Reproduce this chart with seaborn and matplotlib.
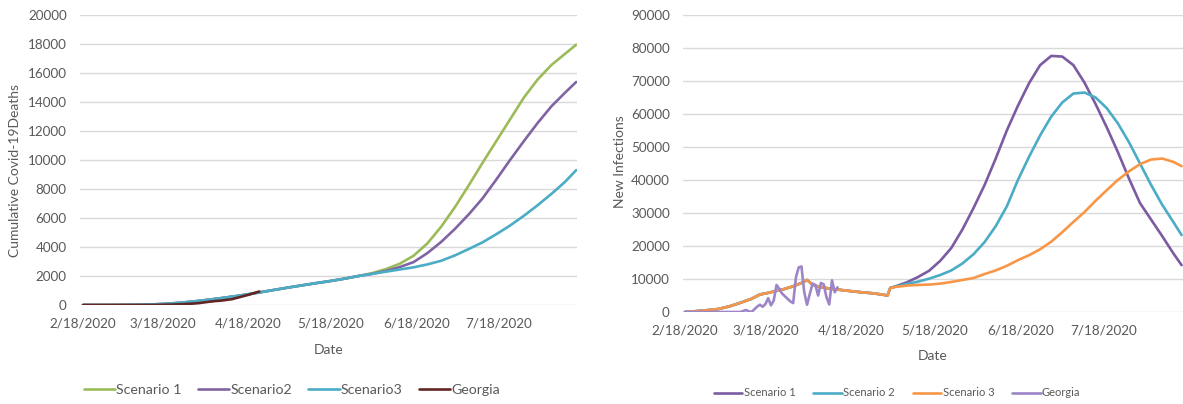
import numpy as np
import pandas as pd
import matplotlib
matplotlib.use("Agg")
import matplotlib.pyplot as plt
import seaborn as sns

# ---------------- data ----------------
start_date = "2020-02-18"
tick_dates = ["2020-02-18", "2020-03-18", "2020-04-18", "2020-05-18", "2020-06-18", "2020-07-18"]
tick_labels = ["2/18/2020", "3/18/2020", "4/18/2020", "5/18/2020", "6/18/2020", "7/18/2020"]

# Left chart: cumulative deaths (day offsets from 2/18/2020)
death_days = [0, 5, 10, 15, 20, 25, 30, 35, 40, 45, 50, 55, 60, 65, 70, 75, 80, 85, 90, 95, 100,
              105, 110, 115, 120, 125, 130, 135, 140, 145, 150, 155, 160, 165, 170, 175, 179]
shared_early_deaths = [0, 0, 0, 5, 15, 40, 80, 150, 240, 350, 470, 600, 740, 900, 1060, 1220,
                       1370, 1520, 1660, 1820, 2000]
scenario1_late_deaths = [2200, 2480, 2850, 3400, 4250, 5400, 6750, 8250, 9800, 11300, 12800,
                         14300, 15550, 16550, 17330, 17950]
scenario2_late_deaths = [2150, 2350, 2620, 2960, 3580, 4350, 5250, 6250, 7350, 8650, 10000,
                         11300, 12550, 13700, 14650, 15380]
scenario3_late_deaths = [2150, 2300, 2450, 2600, 2800, 3050, 3420, 3860, 4320, 4880, 5480,
                         6150, 6880, 7660, 8500, 9300]
georgia_death_days = [0, 22, 24, 26, 28, 30, 32, 34, 36, 38, 40, 42, 44, 46, 48, 50, 52, 54,
                      56, 58, 60, 62, 64]
georgia_deaths = [0, 0, 1, 5, 10, 20, 26, 40, 50, 80, 100, 130, 180, 230, 270, 300, 350, 400,
                  500, 600, 700, 820, 930]

# Right chart: new infections
infection_days_early = [0, 4, 8, 12, 16, 20, 24, 27, 30, 33, 36, 39, 42, 44, 46, 48, 52, 56,
                        60, 64, 68, 72, 73, 74]
shared_early_infections = [0, 250, 550, 900, 1700, 2800, 4000, 5300, 5800, 6400, 7000, 7800,
                           8800, 9700, 8300, 7700, 7100, 6700, 6300, 5950, 5650, 5150, 5000, 7300]
infection_days_late = [76, 80, 84, 88, 92, 96, 100, 104, 108, 112, 116, 120, 124, 128, 132,
                       136, 140, 144, 148, 152, 156, 160, 164, 168, 172, 176, 179]
scenario1_late_infections = [7800, 9000, 10600, 12500, 15500, 19400, 25000, 31500, 38500, 46500,
                             55000, 62500, 69300, 74800, 77600, 77400, 74800, 69500, 63000,
                             56000, 48500, 40500, 33000, 28000, 23000, 17800, 14200]
scenario2_late_infections = [7700, 8500, 9200, 10100, 11200, 12600, 14700, 17500, 21200, 26000,
                             32000, 40000, 47000, 53500, 59200, 63500, 66200, 66500, 65000,
                             61800, 57200, 51500, 45000, 38500, 32500, 27300, 23300]
scenario3_late_infections = [7600, 8000, 8200, 8300, 8600, 9100, 9700, 10300, 11500, 12600,
                             14000, 15700, 17200, 19000, 21300, 24200, 27300, 30300, 33700,
                             36900, 40000, 42600, 44800, 46200, 46500, 45500, 44200]
georgia_infection_days = list(range(0, 56))
georgia_infections = [0] * 20 + [0, 300, 600, 200, 0, 800, 1600, 2200, 1600, 2400, 4200, 2000,
                                 3500, 8200, 7000, 5600, 4800, 4000, 3200, 2700, 10500, 13500,
                                 13800, 6000, 2200, 5500, 8600, 8200, 5000, 8800, 8400, 4500,
                                 2300, 9600, 6000, 7500]

left_labels = ["Scenario 1", "Scenario2", "Scenario3", "Georgia"]
right_labels = ["Scenario 1", "Scenario 2", "Scenario 3", "Georgia"]
left_colors = ["#9bbb59", "#8064a2", "#4bacc6", "#632523"]
right_colors = ["#7b5ba1", "#4bacc6", "#f79646", "#9d86c7"]

# ---------------- build ----------------
base = pd.Timestamp(start_date)


def to_dates(days):
    return base + pd.to_timedelta(np.asarray(days, dtype=float), unit="D")


left_series = [
    (death_days, shared_early_deaths + scenario1_late_deaths),
    (death_days, shared_early_deaths + scenario2_late_deaths),
    (death_days, shared_early_deaths + scenario3_late_deaths),
    (georgia_death_days, georgia_deaths),
]
inf_days = infection_days_early + infection_days_late
right_series = [
    (inf_days, shared_early_infections + scenario1_late_infections),
    (inf_days, shared_early_infections + scenario2_late_infections),
    (inf_days, shared_early_infections + scenario3_late_infections),
    (georgia_infection_days, georgia_infections),
]

sns.set_style("white")
plt.rcParams["font.family"] = ["Lato", "DejaVu Sans"]
TXT = "#595959"

W, H = 1183, 404
fig = plt.figure(figsize=(W / 100, H / 100), dpi=100)


def px_axes(x0, x1, ytop, ybot):
    return fig.add_axes([x0 / W, 1 - ybot / H, (x1 - x0) / W, (ybot - ytop) / H])


ax1 = px_axes(80, 577, 15, 305)
ax2 = px_axes(683, 1183, 15, 312)

for ax, series, colors in [(ax1, left_series, left_colors), (ax2, right_series, right_colors)]:
    for (d, v), c in zip(series, colors):
        sns.lineplot(x=to_dates(d), y=v, ax=ax, color=c, linewidth=1.9, legend=False)

ax1.set_xlim(base - pd.Timedelta(days=1.1), base + pd.Timedelta(days=179.3))
ax2.set_xlim(base - pd.Timedelta(days=0.7), base + pd.Timedelta(days=179.5))
ax1.set_ylim(0, 20000)
ax2.set_ylim(0, 90000)
ax1.set_yticks(list(range(0, 20001, 2000)))
ax2.set_yticks(list(range(0, 90001, 10000)))
ax1.set_yticklabels([str(t) for t in range(0, 20001, 2000)])
ax2.set_yticklabels([str(t) for t in range(0, 90001, 10000)])

for ax in (ax1, ax2):
    ax.set_xticks(pd.to_datetime(tick_dates))
    ax.set_xticklabels(tick_labels)
    ax.tick_params(axis="both", length=0, labelsize=9.7, labelcolor=TXT)
    ax.tick_params(axis="x", pad=9)
    ax.tick_params(axis="y", pad=9.5)
    ax.grid(axis="y", color="#d9d9d9", linewidth=1.0)
    ax.grid(axis="x", visible=False)
    ax.set_axisbelow(True)
    for s in ax.spines.values():
        s.set_visible(False)

ax1.set_ylabel("Cumulative Covid-19Deaths", fontsize=10, color=TXT)
ax1.yaxis.set_label_coords(-0.1308, 0.4655)
ax1.yaxis.label.set_va("center")
ax1.set_xlabel("Date", fontsize=10, color=TXT)
ax1.xaxis.set_label_coords(0.501, -0.155)
ax1.xaxis.label.set_va("center")

ax2.set_ylabel("New Infections", fontsize=10, color=TXT)
ax2.yaxis.set_label_coords(-0.126, 0.505)
ax2.yaxis.label.set_va("center")
ax2.set_xlabel("Date", fontsize=10, color=TXT)
ax2.xaxis.set_label_coords(0.5, -0.148)
ax2.xaxis.label.set_va("center")

fig.legend(ax1.get_lines()[:4], left_labels, loc="center", bbox_to_anchor=(292 / W, 1 - 390 / H),
           ncol=4, frameon=False, fontsize=10.2, handlelength=2.2, handletextpad=0.1,
           columnspacing=1.15, labelcolor=TXT, borderaxespad=0, borderpad=0)
fig.legend(ax2.get_lines()[:4], right_labels, loc="center", bbox_to_anchor=(897 / W, 1 - 393 / H),
           ncol=4, frameon=False, fontsize=8.0, handlelength=2.6, handletextpad=0.1,
           columnspacing=1.6, labelcolor=TXT, borderaxespad=0, borderpad=0)

fig.savefig("out.png", dpi=100, facecolor="white")
